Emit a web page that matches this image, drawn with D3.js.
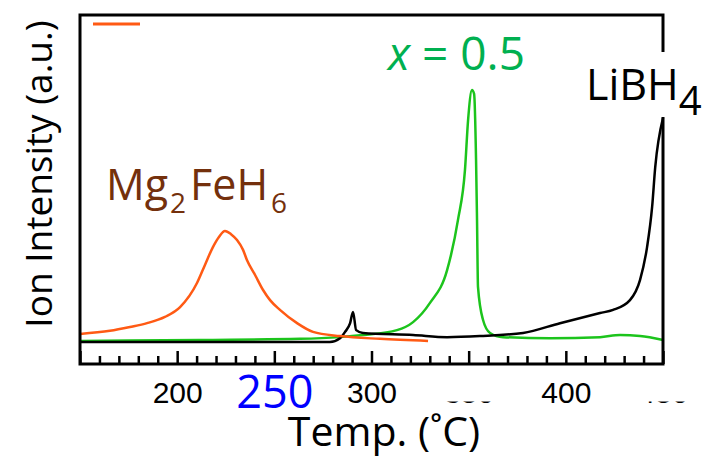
<!DOCTYPE html>
<html lang="en">
<head>
  <meta charset="UTF-8">
  <title>Ion Intensity vs Temperature</title>
  <script src="https://d3js.org/d3.v7.min.js"></script>
  <style>
    body { margin: 0; background: #fff; }
    svg { display: block; }
    .tick text { font-family: "Liberation Sans", Arial, sans-serif; }
  </style>
</head>
<body>
  <svg width="704" height="458"></svg>

  <script>
    // temperature (°C) and intensity (a.u., 0-100)
    const mgTemp = [150, 165.4, 175.7, 184.5, 193.7, 201.5, 210.2, 214.3, 218.4, 221.5, 224.6, 227.7, 230.8, 233.9, 235.9, 240.1, 244.2, 247.8, 252.9, 261.7, 269.9, 283.8, 304.4, 329.1];
    const mgVal  = [8.6, 9.5, 10.6, 11.7, 13.5, 16.3, 23.2, 28.4, 33.5, 36.4, 38.1, 37.2, 35.5, 32.7, 29.8, 25.5, 21.2, 18.3, 15.5, 11.7, 9.2, 8.0, 7.2, 6.6];

    const mixTemp = [150, 211.8, 263.2, 283.8, 295.6, 313.1, 321.4, 330.1, 338.9, 344.5, 348.1, 349.7, 351.7, 352.8, 353.8, 354.3, 354.8, 357.4, 361.0, 367.7, 391.9, 417.6, 427.9, 438.2, 450];
    const mixVal  = [6.6, 6.9, 7.2, 7.7, 8.3, 9.7, 12.0, 17.5, 26.9, 41.3, 55.6, 69.9, 78.5, 77.4, 58.5, 41.3, 22.1, 12.6, 8.9, 7.7, 7.4, 7.7, 8.3, 8.0, 6.9];

    const libTemp = [150, 211.8, 278.6, 283.8, 286.4, 289.0, 290.5, 292.1, 295.6, 321.4, 338.9, 355.8, 378.0, 397.0, 417.6, 424.3, 433.0, 438.2, 441.8, 444.4, 446.0, 450];
    const libVal  = [6.3, 6.3, 6.3, 7.4, 9.2, 11.7, 14.9, 9.7, 8.9, 8.3, 7.7, 8.0, 8.9, 11.7, 14.6, 15.5, 18.3, 24.1, 33.5, 45.0, 56.4, 70.5];

    const majorTicks = [150, 200, 250, 300, 350, 400, 450];
    const minorTicks = d3.range(160, 450, 10).filter(t => t % 50 !== 0);

    const svg = d3.select("svg");
    const plotL = 80, plotR = 663, plotT = 15, plotB = 364;

    const x = d3.scaleLinear().domain([150, 450]).range([plotL, plotR]);
    const y = d3.scaleLinear().domain([0, 100]).range([plotB, plotT]);

    // minor ticks (inward)
    svg.append("g")
      .attr("transform", `translate(0,${plotB})`)
      .call(d3.axisBottom(x).tickValues(minorTicks).tickSize(-8).tickFormat(""))
      .call(g => g.select(".domain").remove())
      .call(g => g.selectAll("line").attr("stroke", "#000").attr("stroke-width", 2.5));

    // major ticks + labels
    const xAxis = svg.append("g")
      .attr("transform", `translate(0,${plotB})`)
      .call(d3.axisBottom(x).tickValues(majorTicks).tickSize(-13).tickPadding(18).tickFormat(d3.format("d")))
      .call(g => g.select(".domain").remove())
      .call(g => g.selectAll("line").attr("stroke", "#000").attr("stroke-width", 2.5));

    xAxis.selectAll("text")
      .attr("fill", "#000")
      .style("font-size", "30px");

    // the 250 label is set larger, in blue
    xAxis.selectAll(".tick").filter(d => d === 250).select("text")
      .attr("y", 0).attr("dy", "44px")
      .style("fill", "#0000FF")
      .style("font-family", "'Open Sans', sans-serif")
      .style("font-size", "45px");

    // labels 150, 350 and 450 are covered, only their bottoms peek out
    svg.append("rect").attr("x", 40).attr("y", 372).attr("width", 75).attr("height", 34).attr("fill", "#fff");
    [350, 450].forEach(t => {
      svg.append("rect")
        .attr("x", x(t) - 30).attr("y", 372)
        .attr("width", 60).attr("height", 29.5)
        .attr("fill", "#fff");
    });

    // curves
    const line = d3.line()
      .x(d => x(d[0]))
      .y(d => y(d[1]))
      .curve(d3.curveMonotoneX);

    const series = [
      { t: mixTemp, v: mixVal, color: "#1CC41C" },
      { t: libTemp, v: libVal, color: "#000000" },
      { t: mgTemp,  v: mgVal,  color: "#FF5A14" }
    ];

    series.forEach(s => {
      svg.append("path")
        .datum(d3.zip(s.t, s.v))
        .attr("fill", "none")
        .attr("stroke", s.color)
        .attr("stroke-width", 2.5)
        .attr("stroke-linejoin", "round")
        .attr("d", line);
    });

    // frame
    svg.append("rect")
      .attr("x", plotL).attr("y", plotT)
      .attr("width", plotR - plotL).attr("height", plotB - plotT)
      .attr("fill", "none")
      .attr("stroke", "#000")
      .attr("stroke-width", 3);

    // short orange stroke at top left
    svg.append("line")
      .attr("x1", 93).attr("x2", 140).attr("y1", 24).attr("y2", 24)
      .attr("stroke", "#FF5A14").attr("stroke-width", 3);

    // annotations
    const font = "'Open Sans', sans-serif";

    const mg = svg.append("text")
      .attr("x", 106).attr("y", 200)
      .attr("fill", "#74300C")
      .style("font-family", font)
      .style("font-size", "43px");
    mg.append("tspan").text("Mg");
    mg.append("tspan").attr("dy", 13).attr("dx", 2).style("font-size", "28px").text("2");
    mg.append("tspan").attr("dy", -13).attr("dx", 4).text("FeH");
    mg.append("tspan").attr("dy", 13).attr("dx", 3).style("font-size", "28px").text("6");

    const gx = svg.append("text")
      .attr("x", 388).attr("y", 70)
      .attr("fill", "#00B050")
      .style("font-family", font)
      .style("font-size", "46px");
    gx.append("tspan").style("font-style", "italic").text("x");
    gx.append("tspan").text(" = 0.5");

    // white patch behind LiBH4 breaks the right frame edge
    svg.append("rect").attr("x", 580).attr("y", 52).attr("width", 124).attr("height", 65).attr("fill", "#fff");
    const lb = svg.append("text")
      .attr("x", 586).attr("y", 100)
      .attr("fill", "#000")
      .style("font-family", font)
      .style("font-size", "43px");
    lb.append("tspan").text("LiBH");
    lb.append("tspan").attr("dy", 15).style("font-size", "40px").text("4");

    // axis titles
    svg.append("text")
      .attr("transform", "translate(52,174) rotate(-90)")
      .attr("text-anchor", "middle")
      .attr("fill", "#000")
      .style("font-family", font)
      .style("font-size", "37px")
      .text("Ion Intensity (a.u.)");

    svg.append("text")
      .attr("x", 384).attr("y", 446)
      .attr("text-anchor", "middle")
      .attr("fill", "#000")
      .style("font-family", font)
      .style("font-size", "41px")
      .text("Temp. (˚C)");
  </script>
</body>
</html>
